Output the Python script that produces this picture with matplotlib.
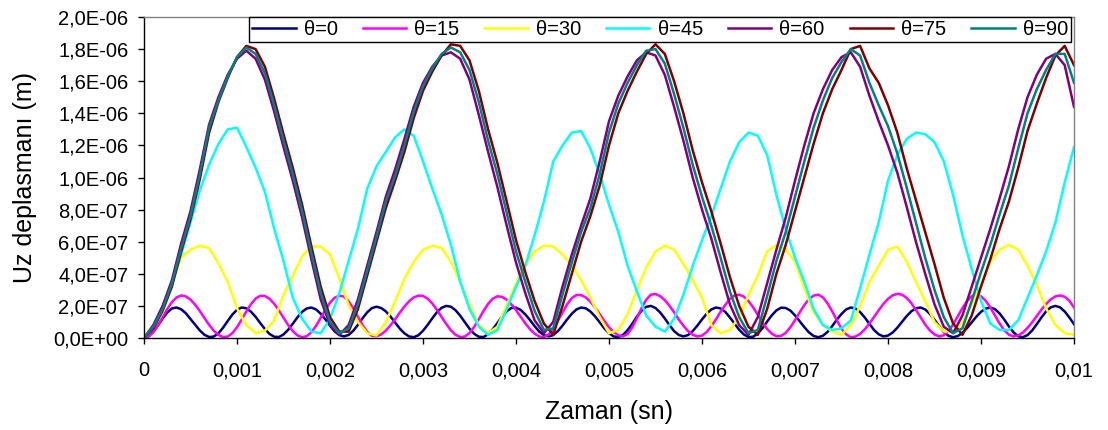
import numpy as np
import matplotlib
matplotlib.use("Agg")
import matplotlib.pyplot as plt
from matplotlib.ticker import MultipleLocator, FuncFormatter

# Vertical displacement Uz (units of 1e-7 m) for several angles theta.
# Fine series sampled every 0.00005 s, coarse series every 0.0001 s.
t_fine = np.linspace(0.0, 0.01, 201)
t_coarse = np.linspace(0.0, 0.01, 101)

uz_theta0 = [
    0.00, 0.10, 0.38, 0.78, 1.21, 1.59, 1.84, 1.90, 1.79, 1.54,
    1.18, 0.82, 0.47, 0.20, 0.06, 0.09, 0.29, 0.64, 1.06, 1.46,
    1.76, 1.90, 1.85, 1.64, 1.32, 0.93, 0.56, 0.25, 0.08, 0.06,
    0.22, 0.51, 0.89, 1.29, 1.63, 1.84, 1.90, 1.78, 1.51, 1.16,
    0.77, 0.41, 0.18, 0.10, 0.19, 0.45, 0.82, 1.23, 1.60, 1.86,
    1.95, 1.87, 1.66, 1.34, 0.96, 0.59, 0.29, 0.10, 0.05, 0.17,
    0.45, 0.82, 1.23, 1.61, 1.88, 2.00, 1.95, 1.73, 1.39, 0.98,
    0.58, 0.26, 0.08, 0.06, 0.23, 0.54, 0.93, 1.34, 1.67, 1.87,
    1.89, 1.75, 1.47, 1.12, 0.74, 0.40, 0.18, 0.10, 0.18, 0.43,
    0.77, 1.16, 1.51, 1.78, 1.90, 1.85, 1.65, 1.35, 0.98, 0.60,
    0.30, 0.10, 0.05, 0.19, 0.49, 0.89, 1.33, 1.70, 1.94, 2.00,
    1.87, 1.59, 1.22, 0.80, 0.43, 0.19, 0.10, 0.18, 0.43, 0.77,
    1.16, 1.51, 1.78, 1.90, 1.84, 1.63, 1.28, 0.90, 0.51, 0.22,
    0.06, 0.08, 0.28, 0.61, 1.02, 1.41, 1.72, 1.89, 1.87, 1.71,
    1.41, 1.05, 0.68, 0.35, 0.13, 0.05, 0.14, 0.38, 0.74, 1.14,
    1.50, 1.78, 1.90, 1.84, 1.62, 1.28, 0.88, 0.50, 0.23, 0.10,
    0.15, 0.34, 0.64, 1.00, 1.36, 1.66, 1.85, 1.90, 1.78, 1.50,
    1.14, 0.74, 0.37, 0.14, 0.05, 0.12, 0.32, 0.62, 0.98, 1.33,
    1.63, 1.83, 1.90, 1.80, 1.53, 1.15, 0.72, 0.35, 0.11, 0.05,
    0.18, 0.47, 0.86, 1.28, 1.66, 1.91, 2.00, 1.91, 1.65, 1.28,
    0.86,
]

uz_theta15 = [
    0.00, 0.10, 0.38, 0.80, 1.30, 1.80, 2.24, 2.53, 2.65, 2.59,
    2.39, 2.07, 1.68, 1.24, 0.82, 0.45, 0.19, 0.06, 0.09, 0.30,
    0.67, 1.15, 1.65, 2.11, 2.46, 2.63, 2.62, 2.44, 2.13, 1.72,
    1.26, 0.81, 0.43, 0.16, 0.05, 0.11, 0.36, 0.76, 1.25, 1.75,
    2.20, 2.51, 2.64, 2.58, 2.29, 1.85, 1.32, 0.80, 0.38, 0.14,
    0.11, 0.22, 0.46, 0.79, 1.17, 1.58, 1.96, 2.29, 2.53, 2.64,
    2.62, 2.45, 2.15, 1.75, 1.31, 0.87, 0.48, 0.20, 0.06, 0.09,
    0.31, 0.69, 1.17, 1.68, 2.13, 2.45, 2.60, 2.56, 2.39, 2.10,
    1.74, 1.33, 0.91, 0.55, 0.27, 0.09, 0.06, 0.21, 0.56, 1.08,
    1.59, 2.10, 2.49, 2.68, 2.67, 2.53, 2.26, 1.90, 1.49, 1.06,
    0.67, 0.37, 0.17, 0.10, 0.25, 0.66, 1.24, 1.86, 2.39, 2.70,
    2.74, 2.61, 2.36, 2.01, 1.60, 1.16, 0.76, 0.43, 0.20, 0.10,
    0.15, 0.37, 0.73, 1.16, 1.64, 2.06, 2.43, 2.65, 2.70, 2.58,
    2.30, 1.91, 1.45, 0.98, 0.56, 0.27, 0.11, 0.13, 0.32, 0.67,
    1.11, 1.60, 2.05, 2.43, 2.64, 2.70, 2.53, 2.16, 1.66, 1.10,
    0.58, 0.22, 0.05, 0.09, 0.26, 0.54, 0.90, 1.32, 1.73, 2.12,
    2.44, 2.66, 2.75, 2.70, 2.50, 2.17, 1.75, 1.29, 0.84, 0.47,
    0.22, 0.10, 0.17, 0.43, 0.84, 1.35, 1.86, 2.30, 2.60, 2.70,
    2.60, 2.32, 1.90, 1.40, 0.90, 0.48, 0.20, 0.10, 0.16, 0.34,
    0.63, 0.98, 1.38, 1.77, 2.12, 2.41, 2.59, 2.65, 2.57, 2.32,
    1.90,
]

uz_theta30 = [
    0.0, 0.7, 1.6, 3.4, 5.0, 5.5, 5.75, 5.6, 4.65, 3.5,
    1.85, 0.8, 0.3, 0.45, 1.1, 2.7, 3.9, 5.1, 5.7, 5.7,
    5.2, 3.7, 2.05, 1.0, 0.3, 0.15, 1.0, 2.3, 3.7, 4.75,
    5.5, 5.75, 5.6, 4.75, 3.5, 2.05, 0.8, 0.3, 0.7, 2.05,
    3.4, 4.6, 5.4, 5.75, 5.7, 5.2, 4.5, 3.6, 2.5, 1.3,
    0.3, 0.5, 1.5, 3.0, 4.4, 5.4, 5.75, 5.5, 4.6, 3.6,
    2.5, 0.8, 0.3, 0.5, 1.3, 2.7, 3.9, 5.4, 5.8, 5.5,
    4.75, 3.1, 1.6, 0.8, 0.4, 0.2, 0.8, 2.0, 3.5, 4.5,
    5.5, 5.7, 4.75, 3.5, 2.3, 1.0, 0.4, 0.4, 1.0, 2.1,
    3.3, 4.75, 5.5, 5.8, 5.5, 4.5, 3.3, 1.85, 0.8, 0.3,
    0.2,
]

uz_theta45 = [
    0.0, 0.7, 1.8, 3.5, 5.2, 7.2, 9.2, 10.8, 12.1, 13.0,
    13.1, 11.9, 10.6, 9.1, 6.8, 4.8, 2.5, 1.2, 0.4, 0.3,
    1.2, 2.8, 4.8, 6.8, 9.3, 10.7, 11.6, 12.5, 13.0, 12.6,
    11.0, 9.3, 7.7, 5.8, 3.5, 1.8, 0.7, 0.2, 0.5, 1.8,
    3.2, 4.5, 6.4, 8.5, 11.0, 12.0, 12.8, 12.9, 11.8, 10.2,
    8.3, 6.6, 4.5, 2.9, 1.4, 0.7, 0.4, 1.2, 2.7, 4.5,
    6.1, 7.6, 9.3, 11.0, 12.2, 12.8, 12.6, 11.4, 8.9, 6.8,
    5.0, 3.5, 1.8, 0.8, 0.5, 0.6, 1.1, 3.1, 5.2, 7.2,
    9.8, 11.4, 12.4, 12.8, 12.7, 12.2, 11.0, 8.9, 6.4, 4.3,
    2.3, 0.9, 0.5, 0.5, 1.1, 2.5, 3.9, 5.4, 7.2, 9.7,
    11.9,
]

uz_theta60 = [
    0.0, 0.8, 2.0, 3.6, 5.9, 7.9, 10.5, 13.3, 15.0, 16.4,
    17.4, 17.9, 17.4, 16.1, 14.1, 11.9, 9.8, 7.5, 4.9, 2.4,
    0.8, 0.2, 0.8, 2.4, 4.5, 6.6, 8.8, 10.5, 12.4, 14.4,
    15.9, 16.9, 17.6, 17.8, 17.4, 16.1, 13.9, 11.6, 9.4, 7.0,
    4.7, 2.8, 1.1, 0.3, 1.0, 3.2, 5.2, 7.0, 8.7, 11.0,
    13.5, 15.1, 16.3, 17.3, 17.8, 17.6, 16.4, 14.4, 12.3, 10.0,
    8.0, 6.2, 4.1, 2.1, 0.8, 0.2, 1.3, 3.4, 5.5, 7.5,
    9.8, 12.0, 14.0, 15.5, 16.7, 17.5, 17.8, 16.9, 15.1, 13.5,
    12.0, 10.3, 8.2, 6.0, 4.0, 2.1, 0.7, 0.3, 1.4, 3.2,
    5.0, 6.8, 8.7, 10.7, 13.0, 15.0, 16.4, 17.4, 17.7, 17.0,
    14.4,
]

uz_theta75 = [
    0.0, 0.6, 1.7, 3.2, 5.4, 7.4, 9.9, 12.8, 14.7, 16.2,
    17.5, 18.2, 18.0, 16.9, 14.9, 12.7, 10.6, 8.3, 5.7, 3.2,
    1.3, 0.4, 0.4, 1.8, 3.9, 6.0, 8.1, 9.8, 11.6, 13.7,
    15.4, 16.6, 17.6, 18.3, 18.2, 17.3, 15.4, 13.0, 10.9, 8.5,
    6.1, 4.1, 2.3, 0.9, 0.2, 2.0, 4.0, 6.0, 7.6, 9.5,
    12.0, 14.0, 15.4, 16.6, 17.7, 18.3, 17.7, 16.0, 14.0, 11.7,
    9.7, 7.9, 5.9, 3.8, 2.0, 0.7, 0.2, 1.8, 4.0, 5.8,
    7.9, 10.0, 12.1, 14.0, 15.5, 16.7, 18.0, 18.2, 16.8, 15.9,
    14.5, 12.8, 10.6, 8.6, 6.6, 4.6, 2.5, 0.9, 0.2, 1.4,
    3.2, 4.9, 6.8, 8.5, 10.6, 12.9, 14.6, 16.2, 17.6, 18.2,
    17.0,
]

uz_theta90 = [
    0.0, 0.7, 1.8, 3.4, 5.6, 7.6, 10.2, 13.1, 14.8, 16.3,
    17.5, 18.1, 17.7, 16.5, 14.5, 12.3, 10.2, 7.9, 5.3, 2.8,
    1.0, 0.3, 0.6, 2.1, 4.2, 6.3, 8.5, 10.1, 12.0, 14.1,
    15.7, 16.8, 17.7, 18.1, 17.8, 16.7, 14.7, 12.3, 10.2, 7.8,
    5.4, 3.5, 1.7, 0.5, 0.6, 2.7, 4.7, 6.6, 8.1, 10.2,
    12.8, 14.6, 15.9, 17.0, 17.9, 18.0, 17.1, 15.2, 13.1, 10.8,
    8.8, 7.0, 5.0, 2.9, 1.3, 0.3, 0.5, 2.6, 4.8, 6.6,
    8.8, 11.0, 13.1, 14.8, 16.2, 17.2, 18.0, 17.6, 15.9, 14.5,
    13.2, 11.5, 9.4, 7.2, 5.0, 3.0, 1.3, 0.3, 0.6, 2.3,
    4.1, 5.8, 7.7, 9.5, 11.8, 14.0, 15.5, 16.7, 17.7, 17.7,
    15.9,
]

labels = ["θ=0", "θ=15", "θ=30", "θ=45", "θ=60", "θ=75", "θ=90"]
colors = ["#000080", "#FF00FF", "#FFFF00", "#00FFFF", "#800080", "#800000", "#008080"]
series = [
    (t_fine, uz_theta0), (t_fine, uz_theta15), (t_coarse, uz_theta30),
    (t_coarse, uz_theta45), (t_coarse, uz_theta60), (t_coarse, uz_theta75),
    (t_coarse, uz_theta90),
]
UNIT = 1e-7

plt.rcParams["font.family"] = ["Liberation Sans", "DejaVu Sans"]

W, H = 1108, 430
fig = plt.figure(figsize=(W / 100, H / 100), dpi=100)
ax = fig.add_axes([144 / W, (H - 338) / H, 930 / W, 321 / H])

for (t, v), lab, col in zip(series, labels, colors):
    ax.plot(t, np.asarray(v) * UNIT, color=col, lw=1.8, label=lab,
            solid_joinstyle="round")

ax.set_xlim(0, 0.01)
ax.set_ylim(0, 2e-6)
ax.xaxis.set_major_locator(MultipleLocator(0.001))
ax.yaxis.set_major_locator(MultipleLocator(2e-7))


def fmt_x(v, pos):
    if abs(v) < 1e-12:
        return "0"
    return f"{v:.3f}".rstrip("0").replace(".", ",")


def fmt_y(v, pos):
    return f"{v:.1E}".replace(".", ",")


ax.xaxis.set_major_formatter(FuncFormatter(fmt_x))
ax.yaxis.set_major_formatter(FuncFormatter(fmt_y))
ax.tick_params(axis="both", direction="out", length=4.3, width=1,
               labelsize=14.5, colors="black")
ax.tick_params(axis="x", pad=12.5)
ax.tick_params(axis="y", pad=7)

for side in ("left", "bottom"):
    ax.spines[side].set_color("black")
    ax.spines[side].set_linewidth(1.0)
for side in ("top", "right"):
    ax.spines[side].set_color("#808080")
    ax.spines[side].set_linewidth(1.0)

ax.set_xlabel("Zaman (sn)", fontsize=18, labelpad=14)
ax.set_ylabel("Uz deplasmanı (m)", fontsize=18, labelpad=12)

leg = ax.legend(loc="upper right", bbox_to_anchor=(1071 / W, 1 - 17 / H),
                bbox_transform=fig.transFigure, ncol=7, fontsize=14.5,
                frameon=True, fancybox=False, shadow=False, borderaxespad=0,
                handlelength=2.15, handletextpad=0.4, columnspacing=1.25,
                borderpad=0.15)
leg.get_frame().set_edgecolor("black")
leg.get_frame().set_linewidth(1.0)
leg.get_frame().set_alpha(1.0)

fig.savefig("out.png", dpi=100)
